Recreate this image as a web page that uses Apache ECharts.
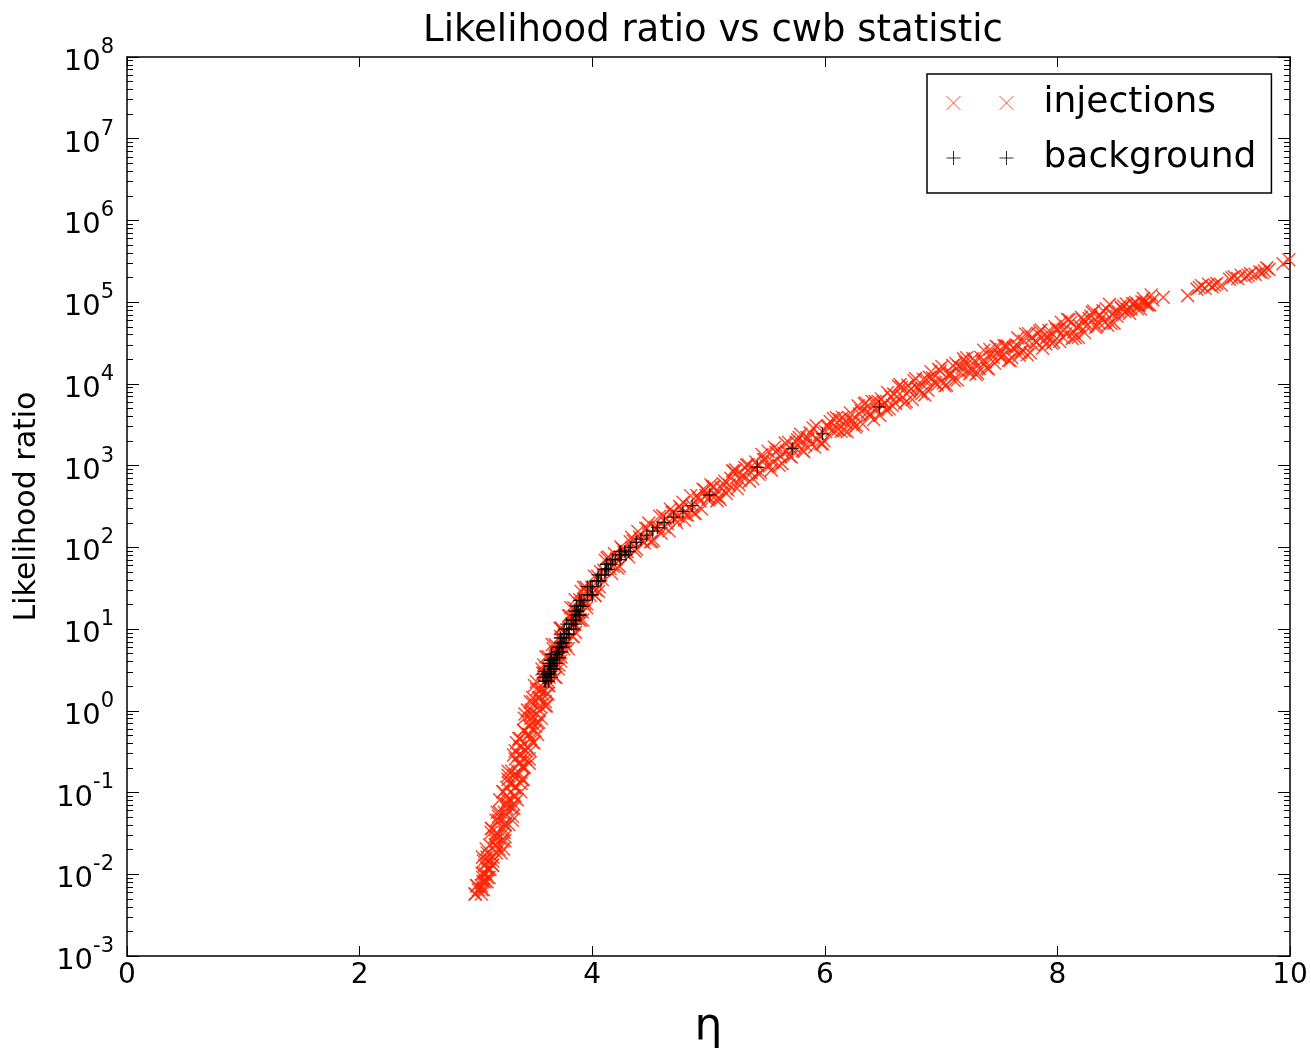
<!DOCTYPE html>
<html>
<head>
<meta charset="utf-8">
<title>Likelihood ratio vs cwb statistic</title>
<script src="https://cdn.jsdelivr.net/npm/echarts@6.0.0/dist/echarts.min.js"></script>
<style>
  html, body { margin: 0; padding: 0; background: #fff; }
  #chart { width: 1311px; height: 1061px; }
</style>
</head>
<body>
<div id="chart"></div>
<script>
  // injections (red x)
  // steep part: likelihood ratio levels, each seen at three eta positions across the band
  var steepLR = [
    0.00575, 0.00646, 0.00724, 0.00813, 0.00912, 0.0102, 0.0115, 0.0129, 0.0145, 0.0162,
    0.0182, 0.0204, 0.0229, 0.0257, 0.0288, 0.0324, 0.0363, 0.0407, 0.0457, 0.0513,
    0.0575, 0.0646, 0.0724, 0.0813, 0.0912, 0.102, 0.115, 0.129, 0.145, 0.162,
    0.182, 0.204, 0.229, 0.257, 0.288, 0.324, 0.363, 0.407, 0.457, 0.513,
    0.575, 0.646, 0.724, 0.813, 0.912, 1.02, 1.15, 1.29, 1.45, 1.62,
    1.82, 2.04, 2.29, 2.57, 2.88, 3.24, 3.63, 4.07, 4.57, 5.13,
    5.75, 6.46, 7.24, 8.13, 9.12, 10.2, 11.5, 12.9, 14.5, 16.2,
    18.2, 20.4, 22.9, 25.7, 28.8, 32.4
  ]
  var steepEtaA = [
    2.992, 3.051, 3.046, 3.095, 3.059, 3.054, 3.112, 3.143, 3.064, 3.146,
    3.097, 3.198, 3.169, 3.250, 3.161, 3.132, 3.233, 3.283, 3.173, 3.254,
    3.204, 3.305, 3.275, 3.355, 3.266, 3.236, 3.336, 3.387, 3.277, 3.357,
    3.307, 3.407, 3.378, 3.458, 3.368, 3.338, 3.439, 3.489, 3.380, 3.460,
    3.410, 3.511, 3.481, 3.562, 3.472, 3.444, 3.546, 3.597, 3.489, 3.570,
    3.522, 3.624, 3.595, 3.679, 3.594, 3.568, 3.673, 3.728, 3.622, 3.707,
    3.664, 3.772, 3.750, 3.838, 3.756, 3.734, 3.841, 3.899, 3.797, 3.885,
    3.843, 3.953, 3.933, 4.024, 3.945, 3.926
  ]
  var steepEtaB = [
    3.047, 3.021, 3.006, 3.075, 3.114, 3.064, 3.097, 3.143, 3.104, 3.056,
    3.177, 3.238, 3.119, 3.170, 3.251, 3.182, 3.133, 3.253, 3.313, 3.194,
    3.244, 3.325, 3.255, 3.205, 3.326, 3.386, 3.266, 3.317, 3.397, 3.327,
    3.277, 3.397, 3.458, 3.338, 3.388, 3.468, 3.399, 3.349, 3.470, 3.530,
    3.410, 3.461, 3.541, 3.472, 3.422, 3.544, 3.606, 3.487, 3.539, 3.620,
    3.552, 3.504, 3.625, 3.689, 3.574, 3.628, 3.713, 3.648, 3.602, 3.727,
    3.794, 3.682, 3.740, 3.828, 3.766, 3.724, 3.851, 3.919, 3.807, 3.865,
    3.953, 3.893, 3.853, 3.984, 4.055, 3.946
  ]
  var steepEtaC = [
    2.997, 3.066, 3.011, 3.060, 3.099, 3.084, 3.122, 3.076, 3.144, 3.096,
    3.217, 3.088, 3.169, 3.230, 3.181, 3.242, 3.138, 3.243, 3.193, 3.314,
    3.184, 3.265, 3.325, 3.275, 3.336, 3.231, 3.336, 3.287, 3.407, 3.277,
    3.357, 3.417, 3.368, 3.428, 3.323, 3.428, 3.379, 3.499, 3.370, 3.450,
    3.510, 3.461, 3.521, 3.417, 3.522, 3.474, 3.596, 3.467, 3.549, 3.610,
    3.562, 3.624, 3.520, 3.629, 3.584, 3.708, 3.583, 3.668, 3.732, 3.687,
    3.754, 3.657, 3.770, 3.728, 3.856, 3.734, 3.821, 3.889, 3.847, 3.915,
    3.818, 3.933, 3.893, 4.024, 3.905, 3.996
  ]

  // shallow part, three interleaved passes along the band
  var shallowEtaA = [
    4.02, 4.06, 4.10, 4.14, 4.18, 4.22, 4.26, 4.30, 4.34, 4.38,
    4.42, 4.46, 4.50, 4.54, 4.58, 4.62, 4.66, 4.70, 4.74, 4.78,
    4.82, 4.86, 4.90, 4.94, 4.98, 5.02, 5.06, 5.10, 5.14, 5.18,
    5.22, 5.26, 5.30, 5.34, 5.38, 5.42, 5.46, 5.50, 5.54, 5.58,
    5.62, 5.66, 5.70, 5.74, 5.78, 5.82, 5.86, 5.90, 5.94, 5.98,
    6.02, 6.06, 6.10, 6.14, 6.18, 6.22, 6.26, 6.30, 6.34, 6.38,
    6.42, 6.46, 6.50, 6.54, 6.58, 6.62, 6.66, 6.70, 6.74, 6.78,
    6.82, 6.86, 6.90, 6.94, 6.98, 7.02, 7.06, 7.10, 7.14, 7.18,
    7.22, 7.26, 7.30, 7.34, 7.38, 7.42, 7.46, 7.50, 7.54, 7.58,
    7.62, 7.66, 7.70, 7.74, 7.78, 7.82, 7.86, 7.90, 7.94, 7.98,
    8.02, 8.06, 8.10, 8.14, 8.18, 8.22, 8.26, 8.30, 8.34, 8.38,
    8.42, 8.46, 8.50, 8.54, 8.58, 8.62, 8.66, 8.70, 8.74, 8.78,
    8.82
  ]
  var shallowLRA = [
    44.3, 33.0, 52.5, 75.9, 58.9, 55.5, 95.9, 89.1, 133, 95.1,
    126, 170, 117, 174, 240, 177, 160, 269, 243, 356,
    249, 324, 432, 294, 430, 585, 428, 385, 644, 579,
    845, 590, 767, 1021, 697, 1012, 1365, 989, 881, 1462,
    1303, 1884, 1303, 1679, 2213, 1493, 2148, 2884, 2080, 1845,
    3041, 2685, 3846, 2636, 3365, 4406, 2965, 4266, 5728, 4130,
    3673, 6095, 5433, 7852, 5433, 6966, 9099, 6095, 8730, 11670,
    8356, 7345, 12020, 10570, 15070, 10260, 12970, 16790, 11140, 15810,
    20940, 14890, 13030, 21230, 18580, 26360, 17910, 22650, 29310, 19450,
    27610, 36560, 26000, 22750, 37070, 32360, 45710, 30900, 38900, 50120,
    33040, 46450, 60950, 42950, 37240, 60390, 52840, 74990, 50930, 64420,
    83180, 54950, 75860, 89130, 76740, 73280, 95500, 91200, 110900, 93330,
    106700
  ]
  var shallowEtaB = [
    4.033, 4.073, 4.113, 4.153, 4.193, 4.233, 4.273, 4.313, 4.353, 4.393,
    4.433, 4.473, 4.513, 4.553, 4.593, 4.633, 4.673, 4.713, 4.753, 4.793,
    4.833, 4.873, 4.913, 4.953, 4.993, 5.033, 5.073, 5.113, 5.153, 5.193,
    5.233, 5.273, 5.313, 5.353, 5.393, 5.433, 5.473, 5.513, 5.553, 5.593,
    5.633, 5.673, 5.713, 5.753, 5.793, 5.833, 5.873, 5.913, 5.953, 5.993,
    6.033, 6.073, 6.113, 6.153, 6.193, 6.233, 6.273, 6.313, 6.353, 6.393,
    6.433, 6.473, 6.513, 6.553, 6.593, 6.633, 6.673, 6.713, 6.753, 6.793,
    6.833, 6.873, 6.913, 6.953, 6.993, 7.033, 7.073, 7.113, 7.153, 7.193,
    7.233, 7.273, 7.313, 7.353, 7.393, 7.433, 7.473, 7.513, 7.553, 7.593,
    7.633, 7.673, 7.713, 7.753, 7.793, 7.833, 7.873, 7.913, 7.953, 7.993,
    8.033, 8.073, 8.113, 8.153, 8.193, 8.233, 8.273, 8.313, 8.353, 8.393,
    8.433, 8.473, 8.513, 8.553, 8.593, 8.633, 8.673, 8.713, 8.753, 8.793
  ]
  var shallowLRB = [
    30.1, 50.2, 69.2, 55.0, 83.2, 58.9, 86.7, 76.6, 120, 156,
    118, 171, 118, 171, 149, 229, 292, 220, 315, 216,
    308, 264, 404, 513, 384, 547, 373, 532, 457, 698,
    887, 664, 946, 646, 920, 785, 1189, 1496, 1109, 1567,
    1059, 1496, 1274, 1928, 2427, 1791, 2518, 1694, 2382, 2018,
    3027, 3776, 2773, 3882, 2600, 3656, 3097, 4667, 5848, 4315,
    6095, 4121, 5821, 4955, 7499, 9354, 6871, 9616, 6442, 9016,
    7586, 11320, 14060, 10280, 14320, 9506, 13180, 11020, 16370, 20230,
    14720, 20420, 13550, 18790, 15700, 23330, 28840, 20990, 29110, 19320,
    26790, 22390, 33270, 41110, 29920, 41400, 27350, 37760, 31410, 46450,
    56890, 41020, 56360, 37070, 50930, 42460, 63100, 77980, 56750, 78700,
    52120, 71940, 67140, 83560, 94840, 82600, 99310, 82600, 99310, 92680
  ]
  var shallowEtaC = [
    4.047, 4.087, 4.127, 4.167, 4.207, 4.247, 4.287, 4.327, 4.367, 4.407,
    4.447, 4.487, 4.527, 4.567, 4.607, 4.647, 4.687, 4.727, 4.767, 4.807,
    4.847, 4.887, 4.927, 4.967, 5.007, 5.047, 5.087, 5.127, 5.167, 5.207,
    5.247, 5.287, 5.327, 5.367, 5.407, 5.447, 5.487, 5.527, 5.567, 5.607,
    5.647, 5.687, 5.727, 5.767, 5.807, 5.847, 5.887, 5.927, 5.967, 6.007,
    6.047, 6.087, 6.127, 6.167, 6.207, 6.247, 6.287, 6.327, 6.367, 6.407,
    6.447, 6.487, 6.527, 6.567, 6.607, 6.647, 6.687, 6.727, 6.767, 6.807,
    6.847, 6.887, 6.927, 6.967, 7.007, 7.047, 7.087, 7.127, 7.167, 7.207,
    7.247, 7.287, 7.327, 7.367, 7.407, 7.447, 7.487, 7.527, 7.567, 7.607,
    7.647, 7.687, 7.727, 7.767, 7.807, 7.847, 7.887, 7.927, 7.967, 8.007,
    8.047, 8.087, 8.127, 8.167, 8.207, 8.247, 8.287, 8.327, 8.367, 8.407,
    8.447, 8.487, 8.527, 8.567, 8.607, 8.647, 8.687, 8.727, 8.767, 8.807
  ]
  var shallowLRC = [
    44.2, 40.5, 74.3, 48.0, 72.1, 101, 83.9, 117, 89.9, 134,
    114, 198, 122, 177, 243, 196, 268, 201, 295, 249,
    427, 259, 370, 504, 404, 550, 411, 600, 504, 863,
    525, 748, 1019, 817, 1109, 822, 1189, 989, 1679, 1012,
    1429, 1928, 1531, 2065, 1531, 2203, 1824, 3083, 1849, 2600,
    3475, 2735, 3656, 2685, 3846, 3184, 5383, 3228, 4539, 6095,
    4842, 6531, 4842, 6998, 5821, 9795, 5848, 8185, 10940, 8590,
    11430, 8356, 11910, 9772, 16370, 9683, 13430, 17780, 13870, 18370,
    13370, 18970, 15490, 25820, 15280, 21180, 28050, 21880, 28970, 21090,
    29920, 24430, 40740, 24100, 33420, 44060, 34200, 45080, 32660, 46030,
    37240, 61520, 36060, 49550, 65160, 50820, 67300, 48980, 69500, 56750,
    94190, 55460, 76560, 89950, 81100, 95280, 82990, 100900, 93110, 122700
  ]

  // sparse high-eta tail
  var tailEta = [
    8.91, 9.12, 9.20, 9.22, 9.24, 9.27, 9.30, 9.33, 9.35, 9.37,
    9.41, 9.48, 9.50, 9.52, 9.55, 9.58, 9.62, 9.64, 9.66, 9.70,
    9.74, 9.76, 9.78, 9.80, 9.82, 9.94, 9.99
  ]
  var tailLR = [
    114800, 120200, 144500, 151400, 158500, 147900, 166000, 154900, 162200, 169800,
    162200, 190500, 199500, 204200, 195000, 213800, 204200, 213800, 223900, 218800,
    234400, 229100, 239900, 263000, 251200, 295100, 331100
  ]

  // background (black +)
  var backgroundEta = [
    3.59, 3.61, 3.62, 3.63, 3.64, 3.65, 3.66, 3.67, 3.68, 3.69,
    3.70, 3.72, 3.74, 3.76, 3.78, 3.80, 3.82, 3.84, 3.86, 3.88,
    3.90, 3.93, 3.96, 4.00, 4.04, 4.08, 4.12, 4.16, 4.20, 4.25,
    4.28, 4.33, 4.38, 4.42, 4.47, 4.52, 4.56, 4.62, 4.70, 4.78,
    4.86, 5.01, 5.42, 5.72, 5.98, 6.47
  ]
  var backgroundLR = [
    2.3, 2.57, 2.82, 3.02, 3.24, 3.55, 3.8, 4.17, 4.47, 4.9,
    5.25, 6.0, 6.8, 7.8, 8.7, 10, 11.5, 12.9, 14.8, 16.6,
    19.1, 22.4, 26.3, 33, 39, 46, 54, 62, 71, 81,
    89, 100, 115, 126, 141, 158, 174, 200, 234, 275,
    324, 437, 955, 1620, 2450, 5250
  ]
  // the dense low end of the background, same levels, spread across the band
  var backgroundEtaB = [
    3.625, 3.58, 3.64, 3.59, 3.68, 3.635, 3.695, 3.64, 3.70, 3.65,
    3.74, 3.705, 3.775, 3.73, 3.80, 3.76, 3.86, 3.825, 3.895, 3.85,
    3.92, 3.89, 4.00, 3.985, 4.075, 4.05, 4.14, 4.12, 4.24, 4.235,
    4.315
  ]
  var backgroundEtaC = [
    3.60, 3.65, 3.58, 3.645, 3.67, 3.64, 3.625, 3.645, 3.72, 3.65,
    3.715, 3.75, 3.73, 3.725, 3.755, 3.84, 3.78, 3.855, 3.89, 3.87,
    3.865, 3.905, 4.00, 3.96, 4.055, 4.11, 4.11, 4.125, 4.175, 4.29,
    4.24
  ]

  // axis ticks
  var xTicks = [0, 2, 4, 6, 8, 10]
  var yTickValues = [1e-3, 1e-2, 1e-1, 1, 1e1, 1e2, 1e3, 1e4, 1e5, 1e6, 1e7, 1e8]
  var minorMultipliers = [2, 3, 4, 5, 6, 7, 8, 9]

  var font = 'DejaVu Sans'
  var red = '#ff2000'
  var crossPath = 'path://M0,0L10,10M10,0L0,10'
  var plusPath = 'path://M5,0L5,10M0,5L10,5'
  var legendCross = 'path://M0,0L14,14M14,0L0,14M53,0L67,14M67,0L53,14'
  var legendPlus = 'path://M7,0L7,14M0,7L14,7M60,0L60,14M53,7L67,7'

  var minorTicks = []
  for (var i = 0; i < yTickValues.length - 1; i++) {
    for (var j = 0; j < minorMultipliers.length; j++) {
      minorTicks.push(minorMultipliers[j] * yTickValues[i])
    }
  }

  function pairs (xs, ys) {
    var out = []
    for (var k = 0; k < xs.length; k++) {
      out.push([xs[k], ys[k]])
    }
    return out
  }

  var injectionData = [].concat(
    pairs(steepEtaA, steepLR),
    pairs(steepEtaB, steepLR),
    pairs(steepEtaC, steepLR),
    pairs(shallowEtaA, shallowLRA),
    pairs(shallowEtaB, shallowLRB),
    pairs(shallowEtaC, shallowLRC),
    pairs(tailEta, tailLR)
  )
  var backgroundData = [].concat(
    pairs(backgroundEta, backgroundLR),
    pairs(backgroundEtaB, backgroundLR),
    pairs(backgroundEtaC, backgroundLR)
  )

  // onZero off everywhere, otherwise the right-hand axes jump to eta = 0
  var frameLine = {show: true, onZero: false, lineStyle: {color: '#000', width: 1.5}}
  var noLine = {show: false, onZero: false}

  function yAxisBase (position, tickValues, tickLength, showLine) {
    return {
      type: 'log',
      logBase: 10,
      min: 1e-3,
      max: 1e8,
      position: position,
      offset: 0,
      axisLine: showLine ? frameLine : noLine,
      axisTick: {show: true, inside: true, length: tickLength, customValues: tickValues, lineStyle: {color: '#000', width: 1}},
      axisLabel: {show: false},
      splitLine: {show: false},
      minorTick: {show: false}
    }
  }

  var yMain = yAxisBase('left', yTickValues, 12, true)
  yMain.name = 'Likelihood ratio'
  yMain.nameLocation = 'middle'
  yMain.nameGap = 85
  yMain.nameRotate = 90
  yMain.nameTextStyle = {fontFamily: font, fontSize: 30, color: '#000'}
  yMain.axisLabel = {
    show: true,
    customValues: yTickValues,
    margin: 13,
    formatter: function (v) {
      return '{b|10}{s|' + Math.round(Math.log10(v)) + '}'
    },
    rich: {
      b: {fontFamily: font, fontSize: 29, color: '#000', lineHeight: 40, verticalAlign: 'bottom'},
      s: {fontFamily: font, fontSize: 21, color: '#000', lineHeight: 20, verticalAlign: 'top'}
    }
  }

  var option = {
    animation: false,
    backgroundColor: '#fff',
    title: {
      text: 'Likelihood ratio vs cwb statistic',
      left: 708,
      top: 8,
      textAlign: 'center',
      textStyle: {fontFamily: font, fontSize: 37, fontWeight: 'normal', color: '#000'}
    },
    legend: {
      left: 927,
      top: 74,
      orient: 'vertical',
      selectedMode: false,
      backgroundColor: '#fff',
      borderColor: '#000',
      borderWidth: 1.5,
      borderRadius: 0,
      padding: [11, 15, 17, 19],
      itemGap: 19,
      itemWidth: 67,
      itemHeight: 14,
      textStyle: {fontFamily: font, fontSize: 36, color: '#000', padding: [0, 0, 0, 25]},
      data: [
        {name: 'injections', icon: legendCross, itemStyle: {color: 'transparent', borderColor: red, borderWidth: 1}},
        {name: 'background', icon: legendPlus, itemStyle: {color: 'transparent', borderColor: '#000', borderWidth: 1}}
      ]
    },
    grid: {left: 127, right: 21, top: 57, bottom: 105},
    xAxis: [
      {
        type: 'value',
        min: xTicks[0],
        max: xTicks[xTicks.length - 1],
        interval: 2,
        position: 'bottom',
        offset: 0,
        axisLine: frameLine,
        axisTick: {show: true, inside: true, length: 10, lineStyle: {color: '#000', width: 1}},
        axisLabel: {color: '#000', fontFamily: font, fontSize: 28, margin: 6, showMinLabel: true, showMaxLabel: true},
        splitLine: {show: false},
        name: 'η',
        nameLocation: 'middle',
        nameGap: 50,
        nameTextStyle: {fontFamily: font, fontSize: 44, color: '#000'}
      },
      {
        type: 'value',
        min: xTicks[0],
        max: xTicks[xTicks.length - 1],
        interval: 2,
        position: 'top',
        offset: 0,
        axisLine: frameLine,
        axisTick: {show: true, inside: true, length: 10, lineStyle: {color: '#000', width: 1}},
        axisLabel: {show: false},
        splitLine: {show: false}
      }
    ],
    yAxis: [
      yMain,
      yAxisBase('right', minorTicks, 6, false),
      yAxisBase('right', yTickValues, 12, true),
      yAxisBase('left', minorTicks, 6, false)
    ],
    series: [
      {
        name: 'injections',
        type: 'scatter',
        xAxisIndex: 0,
        yAxisIndex: 0,
        symbol: crossPath,
        symbolSize: 13,
        silent: true,
        itemStyle: {color: 'transparent', borderColor: red, borderWidth: 1.5},
        emphasis: {disabled: true},
        data: injectionData
      },
      {
        name: 'background',
        type: 'scatter',
        xAxisIndex: 0,
        yAxisIndex: 0,
        symbol: plusPath,
        symbolSize: 13,
        silent: true,
        itemStyle: {color: 'transparent', borderColor: '#000', borderWidth: 1.3},
        emphasis: {disabled: true},
        data: backgroundData
      }
    ]
  }

  var chart = echarts.init(document.getElementById('chart'))
  chart.setOption(option)
</script>
</body>
</html>
